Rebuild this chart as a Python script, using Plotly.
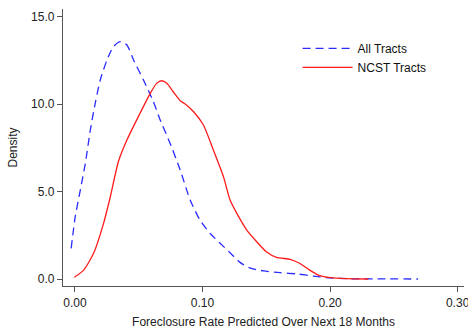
import plotly.graph_objects as go

# All Tracts density
all_x = [-0.003, 0.0002, 0.0042, 0.0081, 0.012, 0.016, 0.0198, 0.025, 0.030, 0.0355,
         0.0407, 0.046, 0.0537, 0.0615, 0.0668, 0.0746, 0.0825, 0.0903, 0.098, 0.106,
         0.114, 0.122, 0.1294, 0.137, 0.148, 0.161, 0.174, 0.187, 0.197, 0.213, 0.24, 0.269]
all_y = [1.75, 3.56, 5.09, 6.6, 8.5, 10.1, 11.37, 12.5, 13.27, 13.56,
         13.37, 12.5, 11.37, 10.13, 9.09, 7.75, 6.23, 4.51, 3.37, 2.6,
         2.03, 1.47, 0.95, 0.63, 0.46, 0.36, 0.29, 0.17, 0.08, 0.02, 0.005, 0.0]

# NCST Tracts density
ncst_x = [-0.0005, 0.0068, 0.0146, 0.0224, 0.0277, 0.034, 0.0407, 0.051, 0.059, 0.064,
          0.068, 0.072, 0.077, 0.0825, 0.0864, 0.093, 0.1007, 0.1085, 0.1164, 0.1216,
          0.1269, 0.1347, 0.1425, 0.150, 0.158, 0.1686, 0.176, 0.184, 0.192, 0.200, 0.213, 0.230]
ncst_y = [0.1, 0.51, 1.47, 3.18, 4.7, 6.7, 7.94, 9.47, 10.61, 11.18,
          11.33, 11.18, 10.7, 10.19, 10.0, 9.56, 8.8, 7.37, 5.85, 4.51,
          3.75, 2.8, 2.13, 1.56, 1.24, 1.12, 0.9, 0.51, 0.19, 0.08, 0.02, 0.0]

x_ticks = [0.0, 0.1, 0.2, 0.3]
x_tick_labels = ["0.00", "0.10", "0.20", "0.30"]
y_ticks = [0, 5, 10, 15]
y_tick_labels = ["0.0", "5.0", "10.0", "15.0"]

font = "Liberation Sans, Arial, sans-serif"

fig = go.Figure()
fig.add_trace(go.Scatter(x=all_x, y=all_y, mode="lines", name="All Tracts",
                         line=dict(color="#2b2bff", width=1.3, dash="8px,5px",
                                   shape="spline", smoothing=0.6)))
fig.add_trace(go.Scatter(x=ncst_x, y=ncst_y, mode="lines", name="NCST Tracts",
                         line=dict(color="#ff1a1a", width=1.3,
                                   shape="spline", smoothing=0.6)))

axis_common = dict(showline=True, linecolor="#555555", linewidth=1.3,
                   ticks="outside", ticklen=5, tickcolor="#555555", tickwidth=1.2,
                   showgrid=False, zeroline=False, ticklabeloverflow="allow",
                   tickfont=dict(family=font, size=12, color="#222222"))

fig.update_layout(
    width=468, height=331,
    margin=dict(l=63, r=4, t=9, b=45),
    paper_bgcolor="white", plot_bgcolor="white",
    font=dict(family=font, size=12, color="#222222"),
    showlegend=True,
    legend=dict(x=0.585, y=0.91, xanchor="left", yanchor="top",
                bgcolor="rgba(0,0,0,0)", font=dict(family=font, size=12, color="#111111"),
                itemwidth=50, tracegroupgap=0),
    xaxis=dict(range=[-0.0094, 0.305], tickvals=x_ticks, ticktext=x_tick_labels,
               automargin=False,
               title=dict(text="Foreclosure Rate Predicted Over Next 18 Months",
                          font=dict(family=font, size=12, color="#222222"), standoff=9),
               **axis_common),
    yaxis=dict(range=[-0.4, 15.43], tickvals=y_ticks, ticktext=y_tick_labels,
               title=dict(text="Density", font=dict(family=font, size=12, color="#222222"),
                          standoff=10),
               **axis_common),
)

fig.write_html("out.html")
